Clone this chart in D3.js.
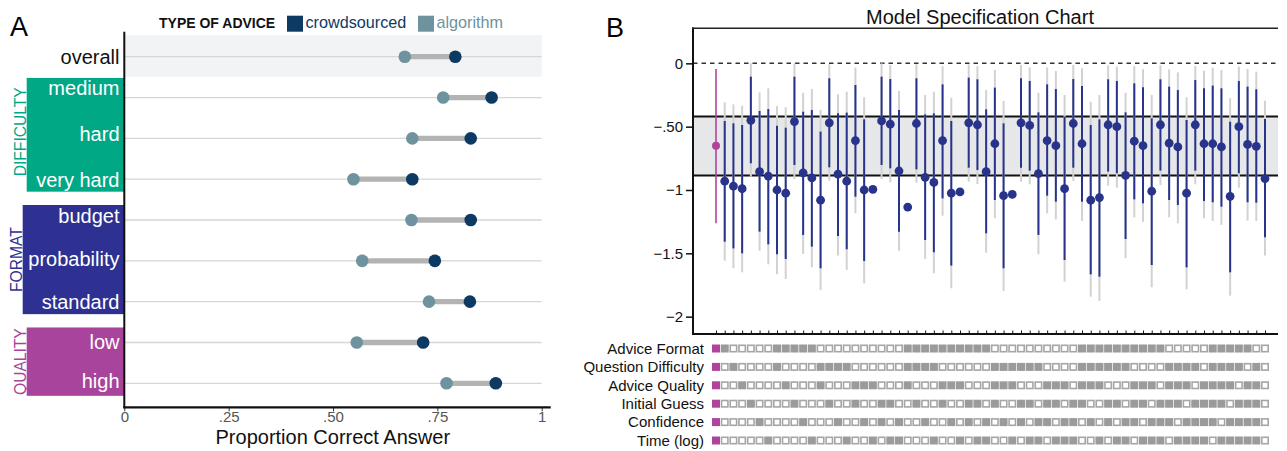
<!DOCTYPE html>
<html><head><meta charset="utf-8">
<script src="https://cdn.jsdelivr.net/npm/d3@7"></script>
<style>
html,body{margin:0;padding:0;background:#fff;}
svg{display:block;font-family:"Liberation Sans",Arial,sans-serif;}
</style></head>
<body><svg id="c" width="1287" height="451"></svg>
<script>
// ---------- Panel A data ----------
const rowKeys = ["overall","medium","hard","very hard","budget","probability","standard","low","high"];
const crowdVals = [0.793,0.880,0.830,0.690,0.830,0.744,0.828,0.716,0.890];
const algoVals  = [0.672,0.764,0.690,0.549,0.688,0.570,0.730,0.557,0.772];
const groupNames = ["DIFFICULTY","FORMAT","QUALITY"];
const groupMembers = [["medium","hard","very hard"],["budget","probability","standard"],["low","high"]];
const groupColors = ["#00a886","#2e3192","#a8449b"];
const xTicksA = [0,0.25,0.5,0.75,1];
const xTickLabelsA = ["0",".25",".50",".75","1"];
const legendLabels = ["crowdsourced","algorithm"];

// ---------- Panel B data ----------
const specEst = [-0.65,-0.93,-0.97,-0.99,-0.45,-0.855,-0.89,-1.00,-1.025,-0.46,-0.865,-0.905,-1.08,-0.47,-0.875,-0.93,
 -0.61,-1.00,-0.995,-0.455,-0.48,-0.85,-1.135,-0.475,-0.90,-0.94,-0.61,-1.025,-1.015,-0.47,-0.485,-0.855,
 -0.635,-1.045,-1.035,-0.47,-0.49,-0.87,-0.61,-0.65,-0.99,-0.475,-0.635,-1.08,-1.06,-0.485,-0.50,-0.885,
 -0.615,-0.65,-1.01,-0.485,-0.63,-0.66,-1.025,-0.485,-0.635,-0.635,-0.66,-1.05,-0.50,-0.64,-0.655,-0.91];
const ciInnerHi = [-0.045,-0.455,-0.474,-0.487,-0.105,-0.376,-0.361,-0.492,-0.508,-0.105,-0.382,-0.368,-0.539,-0.118,-0.395,-0.389,
 -0.171,-0.442,null,-0.105,-0.124,-0.368,null,-0.118,-0.403,-0.395,-0.166,-0.455,null,-0.113,-0.126,-0.363,
 -0.192,-0.474,null,-0.118,-0.139,-0.387,-0.166,-0.203,-0.421,-0.124,-0.179,-0.487,-0.442,-0.126,-0.139,-0.387,
 -0.158,-0.189,-0.434,-0.126,-0.184,-0.211,-0.447,-0.132,-0.197,-0.176,-0.197,-0.461,-0.139,-0.184,-0.205,-0.439];
const ciInnerLo = [-1.263,-1.408,-1.461,-1.50,-0.789,-1.329,-1.429,-1.508,-1.545,-0.803,-1.355,-1.447,-1.618,-0.821,-1.363,-1.468,
 -1.053,-1.561,null,-0.803,-0.829,-1.329,null,-0.837,-1.395,-1.492,-1.066,-1.597,null,-0.824,-0.842,-1.342,
 -1.079,-1.618,null,-0.824,-0.847,-1.355,-1.045,-1.092,-1.553,-0.824,-1.092,-1.666,-1.684,-0.855,-0.868,-1.387,
 -1.074,-1.105,-1.592,-0.847,-1.079,-1.118,-1.611,-0.847,-1.087,-1.097,-1.132,-1.65,-0.868,-1.097,-1.10,-1.374];
const ciOuterHi = [null,-0.308,-0.324,-0.334,0,-0.229,-0.197,-0.337,-0.347,0,-0.232,-0.203,-0.368,-0.008,-0.245,-0.224,
 -0.034,-0.268,null,0,-0.013,-0.218,null,-0.008,-0.25,-0.224,-0.021,-0.271,null,-0.008,-0.021,-0.21,
 -0.053,-0.297,null,-0.013,-0.032,-0.232,-0.032,-0.061,-0.25,-0.013,-0.039,-0.303,-0.25,-0.016,-0.026,-0.232,
 -0.021,-0.047,-0.25,-0.016,-0.047,-0.071,-0.268,-0.021,-0.058,-0.034,-0.053,-0.276,-0.026,-0.045,-0.066,-0.295];
const ciOuterLo = [null,-1.558,-1.618,-1.65,-0.895,-1.479,-1.587,-1.666,-1.703,-0.913,-1.505,-1.61,-1.789,-0.926,-1.518,-1.632,
 -1.184,-1.737,null,-0.913,-0.939,-1.479,null,-0.942,-1.545,-1.658,-1.203,-1.776,null,-0.934,-0.953,-1.495,
 -1.224,-1.797,null,-0.934,-0.955,-1.508,-1.184,-1.232,-1.724,-0.929,-1.242,-1.842,-1.876,-0.966,-0.982,-1.539,
 -1.216,-1.25,-1.768,-0.961,-1.216,-1.263,-1.784,-0.955,-1.224,-1.245,-1.276,-1.834,-0.982,-1.242,-1.245,-1.518];
const bandRange = [-0.42,-0.885];
const yTicksB = [0,-0.5,-1,-1.5,-2];
const yTickLabelsB = ["0","\u2212.50","\u22121","\u22121.5","\u22122"];
const specRowNames = ["Advice Format","Question Difficulty","Advice Quality","Initial Guess","Confidence","Time (log)"];
const specRows = [
 "1 100000 111110000000000 11111111110000000000 111111111100000 111110 0",
 "1 010000 100001111000000 11110000001111110000 111111000011110 111101 0",
 "1 001000 010001000111000 10001110001110001110 111000111011101 111011 0",
 "1 000100 001000100100110 01001001101001101101 100110110111011 110111 0",
 "1 000010 000100010010101 00100101010101011011 010101101110111 101111 0",
 "1 000001 000010001001011 00010010110010110111 001011011101111 011111 0"
];

const svg = d3.select("#c");
const FONT = '"Liberation Sans",Arial,sans-serif';

// ================= PANEL A =================
const xA = d3.scaleLinear().domain([0,1]).range([124.3,541.7]);
const yA = d3.scalePoint().domain(rowKeys).range([56.7,383.3]);
const colCrowd = "#0d3a63", colAlgo = "#6f939e";

svg.append("text").attr("x",10).attr("y",35.5).attr("font-size",27).attr("fill","#000").text("A");

// legend
svg.append("text").attr("x",159).attr("y",27.5).attr("font-size",14).attr("font-weight","bold").attr("fill","#111").text("TYPE OF ADVICE");
const lg = [{x:287,c:colCrowd,t:legendLabels[0]},{x:418,c:colAlgo,t:legendLabels[1]}];
lg.forEach(l=>{
  svg.append("rect").attr("x",l.x).attr("y",15.7).attr("width",16).attr("height",16).attr("fill",l.c);
  svg.append("text").attr("x",l.x+18.5).attr("y",27.5).attr("font-size",16.2).attr("fill",l.c).text(l.t);
});

// overall band
svg.append("rect").attr("x",xA(0)).attr("y",35).attr("width",xA(1)-xA(0)).attr("height",41.7).attr("fill","#f2f3f5");

// gridlines
svg.append("g").selectAll("line").data(rowKeys).join("line")
  .attr("x1",xA(0)).attr("x2",xA(1)).attr("y1",d=>yA(d)).attr("y2",d=>yA(d))
  .attr("stroke","#d6d6d6").attr("stroke-width",1.3);

// group boxes
groupMembers.forEach((mem,gi)=>{
  const y0 = yA(mem[0]) - (gi===0 ? 19.6 : 15), y1 = yA(mem[mem.length-1]) + 12.5;
  const bx = gi===1 ? 22.7 : 26.7;
  svg.append("rect").attr("x",bx).attr("y",y0).attr("width",124.3-bx).attr("height",y1-y0).attr("fill",groupColors[gi]);
  svg.append("text").attr("transform",`translate(${bx-1},${(y0+y1)/2 - (gi===0?3:0)}) rotate(-90)`)
    .attr("text-anchor","middle").attr("font-size",15.6).attr("fill",groupColors[gi]).text(groupNames[gi]);
  const first = y0 + (gi===2 ? 21.5 : 17.5), last = y1 - (gi===2 ? 7.5 : 5);
  mem.forEach((m,i)=>{
    const yy = mem.length>1 ? first + (last-first)*i/(mem.length-1) : first;
    svg.append("text").attr("x",119.5).attr("y",yy).attr("text-anchor","end")
      .attr("font-size",20).attr("fill","#fff").text(m);
  });
});
svg.append("text").attr("x",119.5).attr("y",yA("overall")+7.3).attr("text-anchor","end").attr("font-size",20).attr("fill","#111").text("overall");

// dumbbells
const gA = svg.append("g");
gA.selectAll("line.seg").data(rowKeys).join("line").attr("class","seg")
  .attr("x1",(d,i)=>xA(algoVals[i])).attr("x2",(d,i)=>xA(crowdVals[i]))
  .attr("y1",d=>yA(d)).attr("y2",d=>yA(d)).attr("stroke","#b3b3b3").attr("stroke-width",5.3);
gA.selectAll("circle.al").data(rowKeys).join("circle").attr("class","al")
  .attr("cx",(d,i)=>xA(algoVals[i])).attr("cy",d=>yA(d)).attr("r",6.3).attr("fill",colAlgo);
gA.selectAll("circle.cr").data(rowKeys).join("circle").attr("class","cr")
  .attr("cx",(d,i)=>xA(crowdVals[i])).attr("cy",d=>yA(d)).attr("r",6.3).attr("fill",colCrowd);

// axes A
svg.append("line").attr("x1",124.3).attr("x2",124.3).attr("y1",31.7).attr("y2",408.3).attr("stroke","#111").attr("stroke-width",2);
const axA = svg.append("g").attr("transform","translate(0,407.3)")
  .call(d3.axisBottom(xA).tickValues(xTicksA).tickFormat((d,i)=>xTickLabelsA[i]).tickSize(4).tickSizeOuter(0));
axA.select(".domain").remove();
svg.append("line").attr("x1",123.3).attr("x2",550.7).attr("y1",407.3).attr("y2",407.3).attr("stroke","#111").attr("stroke-width",2.2);
axA.selectAll(".tick line").attr("stroke","#333");
axA.selectAll(".tick text").attr("font-family",'"Liberation Sans Narrow","Liberation Sans",Arial,sans-serif')
  .attr("font-size",15).attr("fill","#555").attr("y",14.5).attr("dy",0);
svg.append("text").attr("x",332.8).attr("y",443.5).attr("text-anchor","middle").attr("font-size",20).attr("fill","#111").text("Proportion Correct Answer");

// ================= PANEL B =================
const idx = d3.range(specEst.length);
const xB = d3.scalePoint().domain(idx).range([716,1265]);
const yB = d3.scaleLinear().domain([-2.137,0.279]).range([334,28]);
const colBlue = "#28348c", colMag = "#b0449c";

svg.append("text").attr("x",606).attr("y",37).attr("font-size",27).attr("fill","#000").text("B");
svg.append("text").attr("x",980).attr("y",24).attr("text-anchor","middle").attr("font-size",20).attr("fill","#111").text("Model Specification Chart");

// band
svg.append("rect").attr("x",693).attr("y",yB(bandRange[0])).attr("width",1278-693)
  .attr("height",yB(bandRange[1])-yB(bandRange[0])).attr("fill","#e6e7e8");
bandRange.forEach(v=>svg.append("line").attr("x1",693).attr("x2",1278).attr("y1",yB(v)).attr("y2",yB(v))
  .attr("stroke","#111").attr("stroke-width",2));
// zero dashed
svg.append("line").attr("x1",693).attr("x2",1278).attr("y1",yB(0)).attr("y2",yB(0))
  .attr("stroke","#333").attr("stroke-width",1.5).attr("stroke-dasharray","4.5,4");

// intervals
const gB = svg.append("g");
gB.selectAll("line.outer").data(idx.filter(i=>ciOuterHi[i]!==null)).join("line").attr("class","outer")
  .attr("x1",i=>xB(i)).attr("x2",i=>xB(i)).attr("y1",i=>yB(ciOuterHi[i])).attr("y2",i=>yB(ciOuterLo[i]))
  .attr("stroke","#d2d2d2").attr("stroke-width",2);
gB.selectAll("line.inner").data(idx.filter(i=>ciInnerHi[i]!==null)).join("line").attr("class","inner")
  .attr("x1",i=>xB(i)).attr("x2",i=>xB(i)).attr("y1",i=>yB(ciInnerHi[i])).attr("y2",i=>yB(ciInnerLo[i]))
  .attr("stroke",i=>i===0?colMag:colBlue).attr("stroke-width",i=>i===0?1.6:2);
gB.selectAll("circle").data(idx).join("circle")
  .attr("cx",i=>xB(i)).attr("cy",i=>yB(specEst[i])).attr("r",i=>i===0?4:4.4)
  .attr("fill",i=>i===0?colMag:colBlue);

// axes B
const ayB = svg.append("g").attr("transform","translate(693,0)")
  .call(d3.axisLeft(yB).tickValues(yTicksB).tickFormat((d,i)=>yTickLabelsB[i]).tickSize(7).tickSizeOuter(0));
ayB.select(".domain").remove();
ayB.selectAll(".tick line").attr("stroke","#111").attr("stroke-width",1.5);
ayB.selectAll(".tick text").attr("font-family",FONT).attr("font-size",15).attr("fill","#111").attr("x",-10);
svg.append("line").attr("x1",693).attr("x2",693).attr("y1",27.5).attr("y2",335).attr("stroke","#111").attr("stroke-width",2);
svg.append("line").attr("x1",692).attr("x2",1278).attr("y1",28.3).attr("y2",28.3).attr("stroke","#222").attr("stroke-width",1.6);
const axB = svg.append("g").attr("transform","translate(0,333.5)")
  .call(d3.axisBottom(xB).tickSize(-3).tickFormat(""));
axB.select(".domain").remove();
axB.selectAll(".tick line").attr("stroke","#111").attr("stroke-width",1);
svg.append("line").attr("x1",692).attr("x2",1278).attr("y1",334).attr("y2",334).attr("stroke","#111").attr("stroke-width",2);

// spec grid
const yRows = d3.scalePoint().domain(specRowNames).range([348.5,440.5]);
specRowNames.forEach((name,ri)=>{
  const bits = specRows[ri].replace(/ /g,"").split("");
  const y = yRows(name);
  svg.append("text").attr("x",704).attr("y",y+5.3).attr("text-anchor","end").attr("font-size",15).attr("fill","#111").text(name);
  svg.append("g").selectAll("rect").data(bits).join("rect")
    .attr("x",(b,i)=>xB(i)-3.2).attr("y",y-3.2).attr("width",6.4).attr("height",6.4)
    .attr("fill",(b,i)=>i===0?colMag:(b==="1"?"#9b9b9b":"#fff"))
    .attr("stroke",(b,i)=>i===0?colMag:(b==="1"?"#9b9b9b":"#a6a6a6"))
    .attr("stroke-width",1.6);
});
</script>
</body></html>
